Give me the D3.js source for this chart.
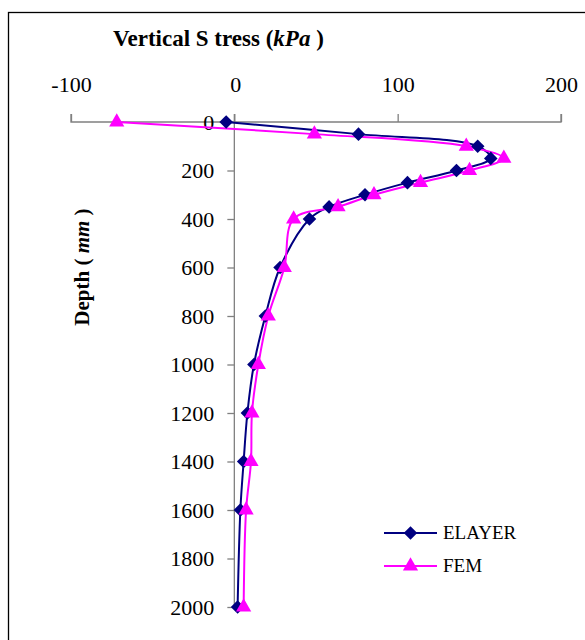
<!DOCTYPE html>
<html>
<head>
<meta charset="utf-8">
<script src="https://cdn.jsdelivr.net/npm/d3@7"></script>
<style>
  body { margin: 0; background: #fff; }
  text { font-family: "Liberation Serif", "Times New Roman", serif; }
</style>
</head>
<body>
<div id="chart"></div>
<script>
// depth (mm) and vertical stress (kPa)
const depthsElayer = [0, 50, 100, 150, 200, 250, 300, 350, 400, 600, 800, 1000, 1200, 1400, 1600, 2000];
const stressElayer = [-5, 76, 149, 157, 136, 106, 80, 58, 46, 28, 19, 12, 8, 5.7, 3.7, 2];
const depthsFem = [0, 50, 100, 150, 200, 250, 300, 350, 400, 600, 800, 1000, 1200, 1400, 1600, 2000];
const stressFem = [-72, 49, 142, 165, 144, 114, 85.5, 63.5, 36.3, 30.6, 20.8, 14.7, 10.8, 10.2, 7.2, 5.7];
const stressTicks = [-100, 0, 100, 200];
const depthTicks = [0, 200, 400, 600, 800, 1000, 1200, 1400, 1600, 1800, 2000];

const W = 585, H = 640;
const svg = d3.select("#chart").append("svg")
    .attr("width", W)
    .attr("height", H);

// outer frame (runs off the right and bottom edges)
svg.append("rect")
    .attr("x", 8.5).attr("y", 12.5)
    .attr("width", 700).attr("height", 700)
    .attr("fill", "none")
    .attr("stroke", "#000")
    .attr("stroke-width", 1.3);

const x = d3.scaleLinear().domain([-100, 200]).range([71, 561]);
const y = d3.scaleLinear().domain([0, 2000]).range([122, 607]);

const axisColor = "#808080";
const fmt = d => String(d);

// top axis
const gx = svg.append("g").attr("transform", "translate(0,122)")
    .call(d3.axisTop(x).tickValues(stressTicks).tickFormat(fmt).tickSize(8).tickPadding(22));
gx.select(".domain").attr("stroke", axisColor).attr("stroke-width", 1.3)
    .attr("d", `M${x(-100)},-8V0H${x(200)}V-8`);
gx.selectAll(".tick line").attr("stroke", axisColor).attr("stroke-width", 1.3);
gx.selectAll(".tick text").attr("font-size", 22).attr("fill", "#000")
    .attr("font-family", "Liberation Serif");
gx.selectAll(".tick").filter(d => d === 0).select("text").attr("dx", 1);

// vertical axis at stress = 0
const gy = svg.append("g").attr("transform", `translate(${x(0)},0)`)
    .call(d3.axisLeft(y).tickValues(depthTicks).tickFormat(fmt).tickSize(7).tickPadding(13));
gy.select(".domain").attr("stroke", axisColor).attr("stroke-width", 1.3)
    .attr("d", `M0,114V${y(2000)}`);
gy.selectAll(".tick line").attr("stroke", axisColor).attr("stroke-width", 1.3);
gy.selectAll(".tick").filter(d => d === 0).select("line").remove();
gy.selectAll(".tick text").attr("font-size", 22).attr("fill", "#000")
    .attr("font-family", "Liberation Serif");

// titles
const title = svg.append("text")
    .attr("x", 113).attr("y", 46)
    .attr("font-size", 23).attr("font-weight", "bold");
title.append("tspan").text("Vertical S tress (");
title.append("tspan").attr("font-style", "italic").text("kPa");
title.append("tspan").text(" )");

const ylab = svg.append("text")
    .attr("transform", "translate(89,267) rotate(-90)")
    .attr("text-anchor", "middle")
    .attr("font-size", 21).attr("font-weight", "bold");
ylab.append("tspan").text("Depth ( ");
ylab.append("tspan").attr("font-style", "italic").text("mm");
ylab.append("tspan").text(" )");

const line = d3.line()
    .x(d => x(d[0]))
    .y(d => y(d[1]))
    .curve(d3.curveCatmullRom.alpha(0.5));

const elayer = stressElayer.map((v, i) => [v, depthsElayer[i]]);
const fem = stressFem.map((v, i) => [v, depthsFem[i]]);

const navy = "#000080", magenta = "#FF00FF";

svg.append("path").datum(elayer)
    .attr("d", line).attr("fill", "none")
    .attr("stroke", navy).attr("stroke-width", 2);
svg.append("path").datum(fem)
    .attr("d", line).attr("fill", "none")
    .attr("stroke", magenta).attr("stroke-width", 2);

const diamond = d3.symbol().type(d3.symbolSquare).size(92);
const tri = d3.symbol().type(d3.symbolTriangle).size(100);

svg.selectAll(".dia").data(elayer).enter().append("path")
    .attr("class", "dia")
    .attr("d", diamond)
    .attr("transform", d => `translate(${x(d[0])},${y(d[1])}) rotate(45)`)
    .attr("fill", navy);

svg.selectAll(".tri").data(fem).enter().append("path")
    .attr("class", "tri")
    .attr("d", tri)
    .attr("transform", d => `translate(${x(d[0])},${y(d[1])})`)
    .attr("fill", magenta);

// legend
const legend = [
    { name: "ELAYER", color: navy, sym: "dia", ly: 533 },
    { name: "FEM", color: magenta, sym: "tri", ly: 566 }
];
const lg = svg.append("g");
legend.forEach(s => {
    lg.append("line")
        .attr("x1", 384).attr("x2", 437)
        .attr("y1", s.ly).attr("y2", s.ly)
        .attr("stroke", s.color).attr("stroke-width", 2);
    lg.append("path")
        .attr("d", s.sym === "dia" ? diamond : tri)
        .attr("transform", `translate(410.5,${s.ly})` + (s.sym === "dia" ? " rotate(45)" : ""))
        .attr("fill", s.color);
    lg.append("text")
        .attr("x", 443).attr("y", s.ly + 6)
        .attr("font-size", 19)
        .text(s.name);
});
</script>
</body>
</html>
